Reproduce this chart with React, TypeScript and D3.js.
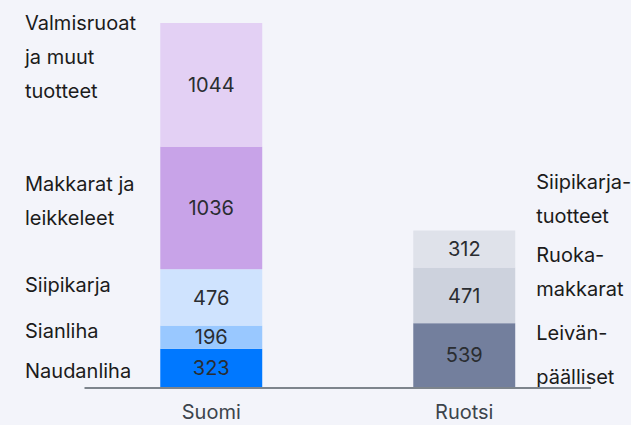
import React from "react";
import * as d3 from "d3";

const categories = ["Suomi", "Ruotsi"];
const suomiSeries = ["Naudanliha", "Sianliha", "Siipikarja", "Makkarat ja leikkeleet", "Valmisruoat ja muut tuotteet"];
const suomiValues = [323, 196, 476, 1036, 1044];
const suomiLabelLines = [["Naudanliha"], ["Sianliha"], ["Siipikarja"], ["Makkarat ja", "leikkeleet"], ["Valmisruoat", "ja muut", "tuotteet"]];
const ruotsiSeries = ["Leivänpäälliset", "Ruokamakkarat", "Siipikarjatuotteet"];
const ruotsiValues = [539, 471, 312];
const ruotsiLabelLines = [["Leivän-", "päälliset"], ["Ruoka-", "makkarat"], ["Siipikarja-", "tuotteet"]];

const suomiColors = ["#0078ff", "#99c8ff", "#cfe3fe", "#c8a3e8", "#e3d0f4"];
const ruotsiColors = ["#737f9d", "#cdd2dd", "#dfe2ea"];
// first-line offsets from segment centre and line heights for annotations
const suomiLabelDy = [10.5, 1, -5, -16.5, -55];
const suomiLabelLH = [34, 34, 34, 34, 34];
const ruotsiLabelDy = [-15, -33, -60];
const ruotsiLabelLH = [44, 34, 34];

const W = 631, H = 425;
const FONT = "Inter, sans-serif";
const FS = 20;

function stackSegs(values: number[]) {
  let acc = 0;
  return values.map((v) => {
    const s = { y0: acc, y1: acc + v, v };
    acc += v;
    return s;
  });
}

export default function App() {
  const total = d3.max([d3.sum(suomiValues), d3.sum(ruotsiValues)]) as number;
  const y = d3.scaleLinear().domain([0, total]).range([387, 23]);
  const x = d3.scaleBand().domain(categories).range([84.5, 591]).paddingInner(0.597).paddingOuter(0.2995);
  const bw = x.bandwidth();

  const groups = [
    { cat: "Suomi", segs: stackSegs(suomiValues), colors: suomiColors, lines: suomiLabelLines, dy: suomiLabelDy, lh: suomiLabelLH, side: "left" },
    { cat: "Ruotsi", segs: stackSegs(ruotsiValues), colors: ruotsiColors, lines: ruotsiLabelLines, dy: ruotsiLabelDy, lh: ruotsiLabelLH, side: "right" },
  ];

  return (
    <div style={{ position: "fixed", left: 0, top: 0, width: W, height: H, background: "#f3f4fa" }}>
      <svg width={W} height={H} style={{ display: "block", fontFamily: FONT }}>
        <rect width={W} height={H} fill="#f3f4fa" />
        {groups.map((g) => {
          const bx = x(g.cat) as number;
          return (
            <g key={g.cat}>
              {g.segs.map((s, i) => {
                const yt = y(s.y1), yb = y(s.y0);
                const cy = (yt + yb) / 2;
                const lx = g.side === "left" ? 25 : bx + bw + 21;
                return (
                  <g key={i}>
                    <rect x={bx} y={yt} width={bw} height={yb - yt} fill={g.colors[i]} />
                    <text x={bx + bw / 2} y={cy} dy="0.36em" textAnchor="middle" fontSize={FS} fill="#2a2d31">
                      {s.v}
                    </text>
                    {g.lines[i].map((ln, j) => (
                      <text key={j} x={lx} y={cy + g.dy[i] + j * g.lh[i]} fontSize={FS} fill="#1b1b1b">
                        {ln}
                      </text>
                    ))}
                  </g>
                );
              })}
              <text x={bx + bw / 2} y={419} textAnchor="middle" fontSize={FS} fill="#3d444c">
                {g.cat}
              </text>
            </g>
          );
        })}
        <line x1={84.5} x2={591} y1={388} y2={388} stroke="#7d848c" strokeWidth={2} />
      </svg>
    </div>
  );
}
